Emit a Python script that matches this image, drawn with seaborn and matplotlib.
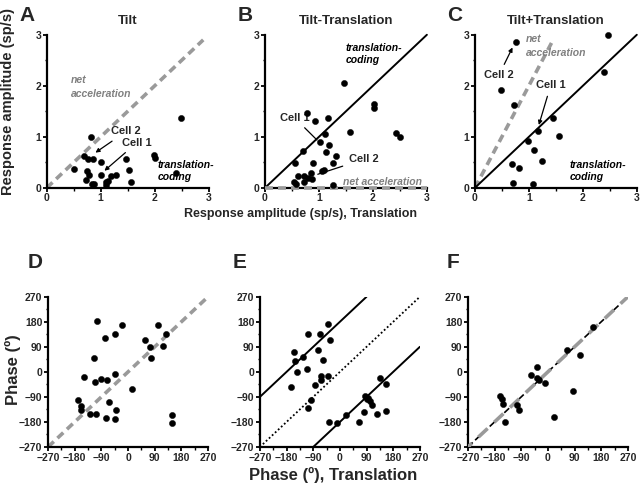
import numpy as np
import matplotlib
matplotlib.use("Agg")
import matplotlib.pyplot as plt
from matplotlib.ticker import MultipleLocator
import seaborn as sns

# ---------------------------------------------------------------------------
# Data
# ---------------------------------------------------------------------------
# A: Tilt amplitude vs translation amplitude (sp/s)
tilt_x = [2.48, 0.82, 1.99, 2.00, 2.39, 0.50, 0.69, 0.77, 0.86, 1.01, 0.75, 0.79,
          0.72, 0.88, 0.84, 1.01, 1.09, 1.13, 1.20, 1.29, 1.46, 1.53, 1.56, 1.10]
tilt_y = [1.36, 0.99, 0.64, 0.58, 0.29, 0.37, 0.62, 0.57, 0.57, 0.51, 0.33, 0.26,
          0.16, 0.07, 0.08, 0.26, 0.11, 0.13, 0.23, 0.25, 0.57, 0.36, 0.11, 0.05]

# B: Tilt-Translation
tmt_x = [1.47, 2.02, 2.02, 2.42, 2.50, 1.58, 0.78, 0.92, 1.16, 1.12, 1.02, 1.19,
         1.13, 1.32, 0.70, 0.55, 0.89, 1.26, 0.62, 0.73, 0.85, 0.88, 0.80, 1.05,
         1.10, 0.53, 0.58, 0.72, 1.26]
tmt_y = [2.06, 1.65, 1.57, 1.07, 1.00, 1.10, 1.47, 1.32, 1.36, 1.06, 0.90, 0.85,
         0.70, 0.63, 0.73, 0.48, 0.48, 0.48, 0.23, 0.24, 0.29, 0.18, 0.19, 0.33,
         0.36, 0.12, 0.08, 0.12, 0.06]

# C: Tilt+Translation
tpt_x = [2.47, 2.39, 0.77, 0.49, 0.72, 1.45, 1.17, 1.56, 0.99, 1.09, 1.24, 0.69,
         0.82, 0.70, 1.07]
tpt_y = [3.00, 2.27, 2.86, 1.91, 1.62, 1.37, 1.12, 1.01, 0.92, 0.74, 0.52, 0.47,
         0.38, 0.10, 0.07]

# D: phase, Tilt vs Translation (deg)
ph_tilt_x = [-103, -19, 101, 129, -45, -76, 58, 75, 118, 79, -116, -148, -112, -90,
             -70, -45, 13, -169, -157, -157, -129, -109, -64, -73, -42, -45, 148, 148]
ph_tilt_y = [182, 168, 168, 138, 138, 122, 116, 90, 94, 50, 50, -20, -36, -26,
             -30, -6, -62, -100, -124, -138, -152, -150, -108, -166, -138, -170, -154, -182]

# E: phase, Tilt-Translation
ph_tmt_x = [-40, -108, -68, -34, -154, -150, -123, -74, -57, -146, -112, -65, -63,
            -40, -85, -165, -99, -106, 137, 156, 85, 93, 103, 110, 96, 83, 156, 125,
            20, -38, -11, 66]
ph_tmt_y = [174, 136, 136, 114, 73, 40, 52, 79, 43, -2, 11, -13, -29, -13, -46,
            -56, -100, -128, -23, -44, -85, -98, -106, -118, -94, -145, -139, -150,
            -154, -181, -184, -181]

# F: phase, Tilt+Translation
ph_tpt_x = [154, 65, 108, -38, -56, -36, -30, -11, -163, -155, -152, -103, -96,
            -143, 22, 84]
ph_tpt_y = [163, 77, 62, 18, -11, -21, -30, -39, -85, -99, -117, -119, -138,
            -180, -161, -69]

amp_ticks = [0, 1, 2, 3]
phase_ticks = [-270, -180, -90, 0, 90, 180, 270]

GRAY = "#9a9a9a"
BOLD = dict(fontweight="bold")

sns.set_theme(style="ticks")
plt.rcParams["font.family"] = ["Liberation Sans", "DejaVu Sans"]
plt.rcParams["font.weight"] = "bold"

fig = plt.figure(figsize=(6.4, 4.83), dpi=100)

axA = fig.add_axes([0.073, 0.611, 0.253, 0.317])
axB = fig.add_axes([0.414, 0.611, 0.253, 0.317])
axC = fig.add_axes([0.742, 0.611, 0.253, 0.317])
axD = fig.add_axes([0.075, 0.0745, 0.250, 0.311])
axE = fig.add_axes([0.406, 0.0745, 0.250, 0.311])
axF = fig.add_axes([0.731, 0.0745, 0.250, 0.311])


def style_axis(ax, lim, ticks, minor):
    ax.set_xlim(lim)
    ax.set_ylim(lim)
    ax.set_xticks(ticks)
    ax.set_yticks(ticks)
    ax.xaxis.set_minor_locator(MultipleLocator(minor))
    ax.yaxis.set_minor_locator(MultipleLocator(minor))
    sns.despine(ax=ax)
    for s in ("left", "bottom"):
        ax.spines[s].set_linewidth(1.6)
        ax.spines[s].set_color("black")
    ax.tick_params(which="major", direction="out", length=3, width=1.3,
                   labelsize=7.5, pad=1, color="black")
    ax.tick_params(which="minor", direction="out", length=1.8, width=1.0, color="black")
    ax.set_xlabel("")
    ax.set_ylabel("")


def dots(ax, x, y):
    sns.scatterplot(x=x, y=y, ax=ax, color="black", s=20, edgecolor="black",
                    linewidth=0.3, clip_on=False, zorder=5)


# ---- A: Tilt ----
axA.plot([0, 2.9], [0, 2.9], color=GRAY, lw=2.6, ls=(0, (2.2, 1.4)), zorder=2)
dots(axA, tilt_x, tilt_y)
axA.text(0.45, 1.97, "net\nacceleration", color="#808080", fontsize=7.5,
         style="italic", fontweight="bold", va="center", linespacing=1.5)
axA.text(2.05, 0.33, "translation-\ncoding", color="black", fontsize=7.5,
         style="italic", fontweight="bold", va="center", linespacing=1.3, clip_on=False)
axA.annotate("Cell 2", xy=(0.86, 0.66), xytext=(1.2, 1.05), fontsize=8, **BOLD,
             arrowprops=dict(arrowstyle="-|>", color="black", lw=0.9, mutation_scale=6))
axA.annotate("Cell 1", xy=(1.03, 0.3), xytext=(1.4, 0.83), fontsize=8, **BOLD,
             arrowprops=dict(arrowstyle="-|>", color="black", lw=0.9, mutation_scale=6))
axA.set_title("Tilt", fontsize=9.5, fontweight="bold", pad=8)
style_axis(axA, (0, 3), amp_ticks, 0.5)

# ---- B: Tilt-Translation ----
axB.plot([0, 3], [0, 3], color="black", lw=1.4, zorder=3, clip_on=False)
axB.plot([0, 3], [0, 0], color=GRAY, lw=2.6, ls=(0, (2.2, 1.4)), zorder=4, clip_on=False)
dots(axB, tmt_x, tmt_y)
axB.text(1.5, 2.62, "translation-\ncoding", color="black", fontsize=7.5,
         style="italic", fontweight="bold", va="center", linespacing=1.3)
axB.text(1.45, 0.12, "net acceleration", color="#808080", fontsize=7.5,
         style="italic", fontweight="bold", va="center", clip_on=False)
axB.annotate("Cell 1", xy=(1.0, 0.9), xytext=(0.27, 1.32), fontsize=8, **BOLD,
             arrowprops=dict(arrowstyle="-", color="black", lw=0.9))
axB.annotate("Cell 2", xy=(0.93, 0.25), xytext=(1.55, 0.5), fontsize=8, **BOLD,
             arrowprops=dict(arrowstyle="-", color="black", lw=0.9))
axB.set_title("Tilt-Translation", fontsize=9.5, fontweight="bold", pad=8)
style_axis(axB, (0, 3), amp_ticks, 0.5)

# ---- C: Tilt+Translation ----
axC.plot([0, 3], [0, 3], color="black", lw=1.4, zorder=3, clip_on=False)
axC.plot([0, 1.45], [0, 2.9], color=GRAY, lw=2.6, ls=(0, (2.2, 1.4)), zorder=2)
dots(axC, tpt_x, tpt_y)
axC.text(0.95, 2.78, "net\nacceleration", color="#808080", fontsize=7.5,
         style="italic", fontweight="bold", va="center", linespacing=1.5)
axC.text(1.75, 0.33, "translation-\ncoding", color="black", fontsize=7.5,
         style="italic", fontweight="bold", va="center", linespacing=1.3)
axC.annotate("Cell 2", xy=(0.72, 2.8), xytext=(0.17, 2.15), fontsize=8, **BOLD,
             arrowprops=dict(arrowstyle="-|>", color="black", lw=0.9, mutation_scale=6))
axC.annotate("Cell 1", xy=(1.17, 1.18), xytext=(1.13, 1.95), fontsize=8, **BOLD,
             arrowprops=dict(arrowstyle="-|>", color="black", lw=0.9, mutation_scale=6))
axC.set_title("Tilt+Translation", fontsize=9.5, fontweight="bold", pad=8)
style_axis(axC, (0, 3), amp_ticks, 0.5)

# ---- D: phase Tilt ----
axD.plot([-270, 270], [-270, 270], color=GRAY, lw=2.6, ls=(0, (2.2, 1.4)), zorder=2)
dots(axD, ph_tilt_x, ph_tilt_y)
style_axis(axD, (-270, 270), phase_ticks, 45)

# ---- E: phase Tilt-Translation ----
axE.plot([-270, 90], [-90, 270], color="black", lw=1.4, zorder=3)
axE.plot([-90, 270], [-270, 90], color="black", lw=1.4, zorder=3)
axE.plot([-270, 270], [-270, 270], color="black", lw=1.3, ls=(0, (1, 1.3)), zorder=3)
dots(axE, ph_tmt_x, ph_tmt_y)
style_axis(axE, (-270, 270), phase_ticks, 45)

# ---- F: phase Tilt+Translation ----
axF.plot([-270, 270], [-270, 270], color="black", lw=1.2, ls=(0, (4, 2)), zorder=2)
axF.plot([-270, 270], [-270, 270], color=GRAY, lw=2.6, ls=(2, (3.5, 2.5)), zorder=3)
dots(axF, ph_tpt_x, ph_tpt_y)
style_axis(axF, (-270, 270), phase_ticks, 45)

# panel letters
letter_pos = {"A": (-0.17, 1.19), "B": (-0.17, 1.19), "C": (-0.17, 1.19),
              "D": (-0.13, 1.29), "E": (-0.17, 1.29), "F": (-0.13, 1.29)}
for ax, letter in zip([axA, axB, axC, axD, axE, axF], "ABCDEF"):
    px, py = letter_pos[letter]
    ax.text(px, py, letter, transform=ax.transAxes,
            fontsize=15, fontweight="bold", va="top", ha="left")

# shared axis labels
fig.text(0.013, 0.79, "Response amplitude (sp/s)", rotation=90, fontsize=10.5,
         fontweight="bold", ha="center", va="center")
fig.text(0.47, 0.556, "Response amplitude (sp/s), Translation", fontsize=9,
         fontweight="bold", ha="center", va="center")
fig.text(0.02, 0.235, "Phase (º)", rotation=90, fontsize=12,
         fontweight="bold", ha="center", va="center")
fig.text(0.52, 0.016, "Phase (º), Translation", fontsize=12,
         fontweight="bold", ha="center", va="center")

fig.savefig("out.png", dpi=100)
